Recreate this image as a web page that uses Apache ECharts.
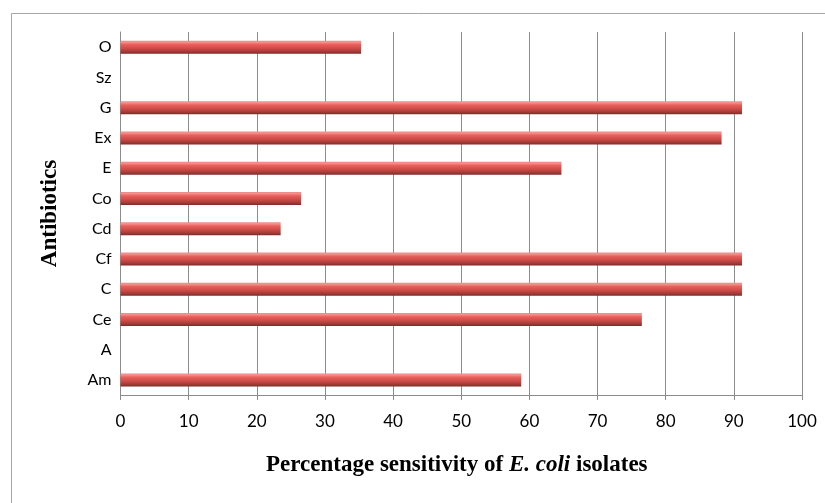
<!DOCTYPE html>
<html>
<head>
<meta charset="utf-8">
<script src="https://cdn.jsdelivr.net/npm/echarts@6/dist/echarts.min.js"></script>
<style>
  html, body { margin: 0; padding: 0; background: #ffffff; }
  #chart { width: 825px; height: 503px; }
</style>
</head>
<body>
<div id="chart"></div>
<script>
// Antibiotic codes, bottom to top as they appear on the axis
const antibiotics = ['Am', 'A', 'Ce', 'C', 'Cf', 'Cd', 'Co', 'E', 'Ex', 'G', 'Sz', 'O'];
// Percentage of E. coli isolates sensitive to each antibiotic
const sensitivity = [58.8, 0, 76.5, 91.2, 91.2, 23.5, 26.5, 64.7, 88.2, 91.2, 0, 35.3];
// Value axis ticks
const xMin = 0;
const xMax = 100;
const xStep = 10;

const chart = echarts.init(document.getElementById('chart'), null, { renderer: 'canvas' });

const barFill = new echarts.graphic.LinearGradient(0, 0, 0, 1, [
  { offset: 0.00, color: '#e88a88' },
  { offset: 0.12, color: '#f7918e' },
  { offset: 0.30, color: '#e8605c' },
  { offset: 0.60, color: '#cc4b47' },
  { offset: 0.85, color: '#a13a37' },
  { offset: 1.00, color: '#7e2b29' }
]);

chart.setOption({
  animation: false,
  backgroundColor: '#ffffff',
  graphic: [{
    type: 'rect',
    left: 9, top: 11,
    shape: { width: 830, height: 500 },
    style: { fill: 'none', stroke: '#a6a6a6', lineWidth: 1 },
    silent: true
  }, {
    type: 'text',
    left: 266,
    top: 454,
    style: {
      text: '{n|Percentage sensitivity of }{i|E. coli}{n| isolates}',
      rich: {
        n: { fontFamily: 'Liberation Serif', fontWeight: 'bold', fontSize: 23, fill: '#000' },
        i: { fontFamily: 'Liberation Serif', fontWeight: 'bold', fontStyle: 'italic', fontSize: 23, fill: '#000' }
      }
    }
  }],
  grid: { left: 120.5, right: 23, top: 32, bottom: 108, containLabel: false },
  xAxis: {
    type: 'value',
    min: xMin, max: xMax, interval: xStep,
    axisLine: { show: true, lineStyle: { color: '#8c8c8c', width: 1 } },
    axisTick: { show: true, length: 5, lineStyle: { color: '#8c8c8c' } },
    splitLine: { show: true, lineStyle: { color: '#8c8c8c', width: 1 } },
    axisLabel: { margin: 18, fontFamily: 'Lato', fontSize: 17, color: '#000' }
  },
  yAxis: {
    type: 'category',
    data: antibiotics,
    name: 'Antibiotics',
    nameLocation: 'middle',
    nameGap: 59,
    nameRotate: 90,
    nameTextStyle: { fontFamily: 'Liberation Serif', fontWeight: 'bold', fontSize: 23, color: '#000' },
    axisLine: { show: true, lineStyle: { color: '#8c8c8c', width: 1 } },
    axisTick: { show: false },
    axisLabel: { margin: 9, fontFamily: 'Lato', fontSize: 16, color: '#000' }
  },
  series: [{
    type: 'bar',
    data: sensitivity,
    barWidth: 13,
    itemStyle: { color: barFill, borderWidth: 0 }
  }]
});
</script>
</body>
</html>
